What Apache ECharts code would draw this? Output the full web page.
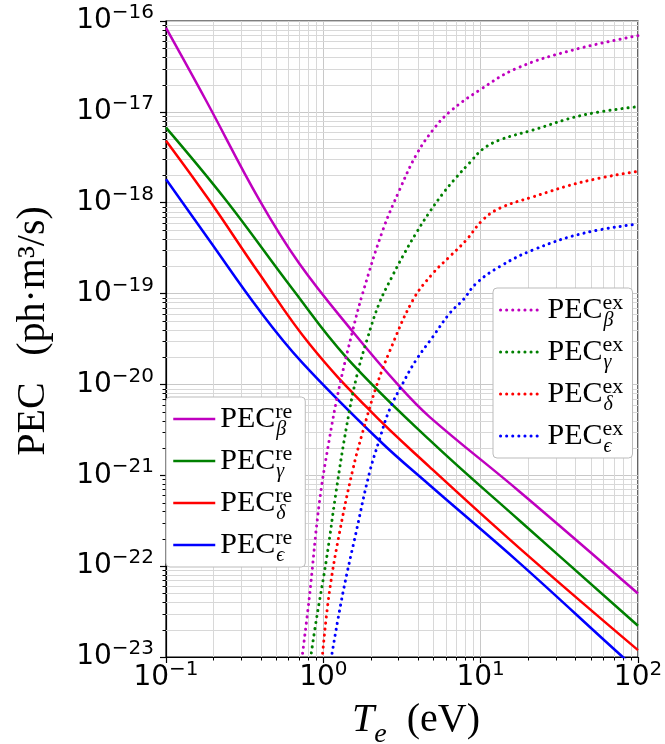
<!DOCTYPE html>
<html><head><meta charset="utf-8">
<script src="https://cdn.jsdelivr.net/npm/echarts@6/dist/echarts.min.js"></script>
<style>html,body{margin:0;padding:0;background:#fff}#c{width:665px;height:744px}</style>
</head><body><div id="c"></div>
<script>
// ---- data ----
const subs = ['β', 'γ', 'δ', 'ϵ'];
const colors = ['#bf00bf', '#008000', '#ff0000', '#0000ff'];

const reBeta  = [[0.1,8.4e-17],[0.179,1.35e-17],[0.391,1.08e-18],[0.703,2.14e-19],[1.54,3.8e-20],[3.05,9.5e-21],[4.73,4.4e-21],[17.7,6.6e-22],[100,5.0e-23]];
const reGamma = [[0.1,6.7e-18],[0.24,1.07e-18],[0.637,1.12e-19],[1.395,2.0e-20],[4.73,2.45e-21],[17.7,3.16e-22],[100,2.21e-23]];
const reDelta = [[0.1,4.82e-18],[0.188,1.07e-18],[0.391,1.66e-19],[0.814,2.8e-20],[1.96,5.24e-21],[4.73,1.24e-21],[17.7,1.57e-22],[100,1.19e-23]];
const reEps   = [[0.1,1.81e-18],[0.188,3.89e-19],[0.391,6.59e-20],[0.734,1.74e-20],[2.28,2.4e-21],[4.73,7.82e-22],[17.7,1.08e-22],[80,1.0e-23],[100,7.2e-24]];

const exBeta  = [[0.738,1.1e-23],[0.814,4.47e-23],[0.943,4.95e-22],[1.09,2.45e-21],[1.265,9.44e-21],[1.54,3.97e-20],[1.78,1.01e-19],[2.39,5.0e-19],[3.05,1.38e-18],[3.89,3.35e-18],[4.97,6.31e-18],[6.35,1.0e-17],[9.86,1.74e-17],[16.9,3.01e-17],[38.7,4.8e-17],[100,6.9e-17]];
const exGamma = [[0.839,1.11e-23],[0.902,2.55e-23],[1.045,1.17e-22],[1.21,6.89e-22],[1.40,3.32e-21],[1.62,1.18e-20],[1.91,3.24e-20],[2.27,7.87e-20],[2.71,1.49e-19],[3.2,2.58e-19],[3.89,4.63e-19],[4.73,7.87e-19],[5.75,1.26e-18],[7.0,1.9e-18],[8.51,2.75e-18],[10.3,3.88e-18],[13.2,4.9e-18],[21.5,6.31e-18],[44.9,9.23e-18],[100,1.14e-17]];
const exDelta = [[0.99,1.1e-23],[1.09,5.02e-23],[1.265,2.3e-22],[1.537,1.14e-21],[1.78,3.0e-21],[2.17,9.44e-21],[2.63,2.28e-20],[3.71,8.49e-20],[4.97,1.67e-19],[6.35,2.55e-19],[8.11,3.89e-19],[10.3,6.45e-19],[13.2,8.69e-19],[21.5,1.16e-18],[44.9,1.7e-18],[100,2.22e-18]];
const exEps   = [[1.136,1.1e-23],[1.33,5.02e-23],[1.61,2.3e-22],[1.96,1.05e-21],[2.27,2.45e-21],[2.63,5.24e-21],[3.2,1.03e-20],[3.89,1.86e-20],[4.97,3.35e-20],[6.35,6.06e-20],[7.71,8.49e-20],[9.4,1.3e-19],[13.2,1.98e-19],[21.5,3.02e-19],[44.9,4.61e-19],[100,5.83e-19]];

// axis decades / tick exponents
const xTickExp = [-1, 0, 1, 2];
const yTickExp = [-23, -22, -21, -20, -19, -18, -17, -16];
const minorMult = [2, 3, 4, 5, 6, 7, 8, 9];

// ---- build ----
const reData = [reBeta, reGamma, reDelta, reEps];
const exData = [exBeta, exGamma, exDelta, exEps];
const reNames = subs.map(s => 're' + s);
const exNames = subs.map(s => 'ex' + s);
const xTicks = xTickExp.map(e => Math.pow(10, e));
const yTicks = yTickExp.map(e => Math.pow(10, e));

function powLabel(v) {
  const e = Math.round(Math.log10(v));
  const s = e < 0 ? '\u2212' + (-e) : '' + e;
  return '{b|10}{s|' + s + '}';
}
const tickRich = {
  b: { fontFamily: 'DejaVu Sans', fontSize: 28, lineHeight: 30, color: '#000' },
  s: { fontFamily: 'DejaVu Sans', fontSize: 20, lineHeight: 20, padding: [0, 0, 16, 0], color: '#000' }
};

const xMinor = [];
xTickExp.slice(0, -1).forEach(d => minorMult.forEach(m => xMinor.push([m * Math.pow(10, d), 1e-20])));
const yMinor = [];
yTickExp.slice(0, -1).forEach(d => minorMult.forEach(m => yMinor.push([1, m * Math.pow(10, d)])));

const minorColor = '#d8d8d8';
function vMinor(params, api) {
  const cs = params.coordSys;
  const p = api.coord([api.value(0), api.value(1)]);
  const x = Math.round(p[0]) + 0.5;
  const b = cs.y + cs.height;
  return { type: 'group', children: [
    { type: 'line', shape: { x1: x, y1: cs.y, x2: x, y2: b }, style: { stroke: minorColor, lineWidth: 1 } },
    { type: 'line', shape: { x1: x, y1: b, x2: x, y2: b + 3.5 }, style: { stroke: '#000', lineWidth: 1 } }
  ]};
}
function hMinor(params, api) {
  const cs = params.coordSys;
  const p = api.coord([api.value(0), api.value(1)]);
  const y = Math.round(p[1]) + 0.5;
  return { type: 'group', children: [
    { type: 'line', shape: { x1: cs.x, y1: y, x2: cs.x + cs.width, y2: y }, style: { stroke: minorColor, lineWidth: 1 } },
    { type: 'line', shape: { x1: cs.x - 3.5, y1: y, x2: cs.x, y2: y }, style: { stroke: '#000', lineWidth: 1 } }
  ]};
}

const series = [
  { type: 'custom', data: xMinor, renderItem: vMinor, z: 1, silent: true, clip: false },
  { type: 'custom', data: yMinor, renderItem: hMinor, z: 1, silent: true, clip: false }
];
reData.forEach((d, i) => series.push({
  name: reNames[i], type: 'line', data: d, symbol: 'none', showSymbol: false,
  smooth: 0.4, clip: true, silent: true, z: 3,
  lineStyle: { color: colors[i], width: 2.5 }, itemStyle: { color: colors[i] }
}));
exData.forEach((d, i) => series.push({
  name: exNames[i], type: 'line', data: d, symbol: 'none', showSymbol: false,
  smooth: 0.4, clip: true, silent: true, z: 3,
  lineStyle: { color: colors[i], width: 3, type: [0.1, 6], cap: 'round' }, itemStyle: { color: colors[i] }
}));

const legendRich = {
  p: { fontFamily: 'Liberation Serif', fontSize: 30, lineHeight: 42, color: '#000' },
  sup: { fontFamily: 'Liberation Serif', fontSize: 22, lineHeight: 22, padding: [0, 0, 14, 0], width: 1, color: '#000' },
  sub: { fontFamily: 'Liberation Serif', fontStyle: 'italic', fontSize: 20, lineHeight: 20, padding: [22, 0, 0, 0], width: 24, color: '#000' }
};
function legendFmt(name) {
  return '{p|PEC}{sup|' + name.slice(0, 2) + '}{sub|' + name.slice(2) + '}';
}
function legendCfg(names, left, top, lw) {
  return {
    data: names, orient: 'vertical', left: left, top: top,
    padding: [1, 5, 1, 6], itemGap: 0, itemWidth: 42, itemHeight: 14,
    backgroundColor: '#fff', borderColor: '#bbb', borderWidth: 1, borderRadius: 4,
    selectedMode: false, formatter: legendFmt,
    lineStyle: { width: lw }, itemStyle: { opacity: 0 },
    textStyle: { rich: legendRich }, z: 10
  };
}

const chart = echarts.init(document.getElementById('c'), null, { renderer: 'canvas' });
chart.setOption({
  animation: false,
  backgroundColor: '#fff',
  textStyle: { fontFamily: 'DejaVu Sans' },
  grid: { left: 166, right: 27, top: 21, bottom: 87, show: true, borderColor: '#000', borderWidth: 1.2, backgroundColor: 'transparent', outerBoundsMode: 'none' },
  xAxis: {
    type: 'log', logBase: 10, min: 0.1, max: 100, splitNumber: 3,
    axisLine: { show: true, lineStyle: { color: '#000', width: 1.2 } },
    axisTick: { show: true, length: 6, customValues: xTicks, lineStyle: { color: '#000', width: 1.2 } },
    axisLabel: { formatter: powLabel, margin: 6, color: '#000', rich: tickRich, customValues: xTicks, showMinLabel: true, showMaxLabel: true, hideOverlap: false },
    splitLine: { show: true, lineStyle: { color: '#c8c8c8', width: 1 } }
  },
  yAxis: {
    type: 'log', logBase: 10, min: 1e-23, max: 1e-16, splitNumber: 7,
    axisLine: { show: true, lineStyle: { color: '#000', width: 1.2 } },
    axisTick: { show: true, length: 6, customValues: yTicks, lineStyle: { color: '#000', width: 1.2 } },
    axisLabel: { formatter: powLabel, margin: 12, color: '#000', rich: tickRich, customValues: yTicks, showMinLabel: true, showMaxLabel: true, hideOverlap: false },
    splitLine: { show: true, lineStyle: { color: '#c8c8c8', width: 1 } }
  },
  legend: [legendCfg(reNames, 166, 397, 2.5), legendCfg(exNames, 493, 288, 3)],
  graphic: [
    { type: 'text', x: 33, y: 419, rotation: Math.PI / 2, z: 20,
      style: { text: 'PEC', fontFamily: 'Liberation Serif', fontSize: 40, fill: '#000', align: 'center', verticalAlign: 'middle' } },
    { type: 'text', x: 33, y: 281, rotation: Math.PI / 2, z: 20,
      style: { text: '(ph·m³/s)', fontFamily: 'Liberation Serif', fontSize: 40, fill: '#000', align: 'center', verticalAlign: 'middle' } },
    { type: 'text', x: 416, y: 720, z: 20,
      style: { text: '{t|T}{e|e}{n|  (eV)}', align: 'center', verticalAlign: 'middle', fill: '#000',
        rich: {
          t: { fontFamily: 'Liberation Serif', fontStyle: 'italic', fontSize: 40, lineHeight: 40, fill: '#000' },
          e: { fontFamily: 'Liberation Serif', fontStyle: 'italic', fontSize: 28, lineHeight: 28, padding: [30, 0, 0, 0], fill: '#000' },
          n: { fontFamily: 'Liberation Serif', fontSize: 40, lineHeight: 40, fill: '#000' }
        } } }
  ],
  series: series
});
</script>
</body></html>
